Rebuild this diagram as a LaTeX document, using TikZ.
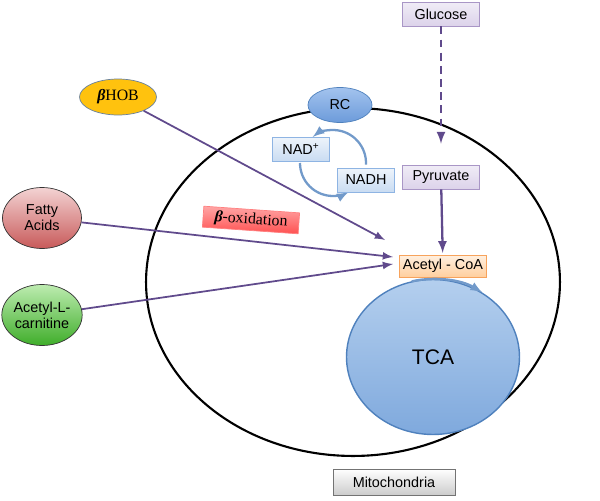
\documentclass[tikz,border=0pt]{standalone}
\usepackage{fontspec}
\setmainfont{Liberation Sans}
\newfontfamily\serifrm{Liberation Serif}
\usepackage{xcolor}
\usetikzlibrary{arrows}
\usetikzlibrary{positioning}
\usetikzlibrary{shapes.geometric}

\definecolor{flowpurple}{HTML}{604A8C}
\definecolor{boxpurple}{HTML}{A996C6}
\definecolor{lavtop}{HTML}{F0ECF6}
\definecolor{lavbot}{HTML}{DCD3EA}
\definecolor{nadblue}{HTML}{8EB4E3}
\definecolor{nadtop}{HTML}{EEF4FB}
\definecolor{nadbot}{HTML}{C9DCF2}
\definecolor{deepblue}{HTML}{4F81BD}
\definecolor{tcatop}{HTML}{B4CFEE}
\definecolor{tcabot}{HTML}{7FA9DD}
\definecolor{rctop}{HTML}{A3C3EE}
\definecolor{rcbot}{HTML}{6C9BDA}
\definecolor{orangeline}{HTML}{F7A35C}
\definecolor{hobfill}{HTML}{FFC20E}
\definecolor{fatop}{HTML}{F3D3D3}
\definecolor{fabot}{HTML}{C85A5A}
\definecolor{alctop}{HTML}{BDEBB0}
\definecolor{alcbot}{HTML}{3FAE2A}

\begin{document}
\begin{tikzpicture}[x=0.02cm,y=-0.02cm]
    \tikzstyle{every node}=[font=\fontsize{8.2}{9.2}\selectfont,inner sep=1pt]
    \tikzstyle{flow}=[draw=flowpurple,line width=1pt,-latex]
    \tikzstyle{cycle}=[draw=deepblue!80,line width=1.3pt,-latex]
    \tikzstyle{pbox}=[draw=boxpurple,top color=lavtop,bottom color=lavbot,minimum width=1.54cm,minimum height=0.48cm]
    \tikzstyle{nbox}=[draw=nadblue,top color=nadtop,bottom color=nadbot,minimum width=1.14cm,minimum height=0.48cm]
    \tikzstyle{blob}=[ellipse,draw=black!80,minimum width=1.58cm,minimum height=1.22cm,align=center,inner sep=0pt]

    \useasboundingbox (0,0) rectangle (600,501);

    % mitochondrion
    \node[ellipse,draw=black,line width=1.2pt,minimum width=8.28cm,minimum height=6.96cm] (mito) at (353,282) {};
    \node[draw=black!55,top color=white,bottom color=black!20,minimum width=2.44cm,minimum height=0.52cm] (mitolbl) at (394,482) {Mitochondria};

    % glycolysis side
    \node[pbox] (glc) at (441,14) {Glucose};
    \node[pbox] (pyr) at (441,177) {Pyruvate};
    \node[draw=orangeline,top color=orange!12,bottom color=orange!38,minimum width=1.74cm,minimum height=0.44cm] (acoa) at (443,266) {Acetyl - CoA};
    \node[ellipse,draw=deepblue,line width=0.8pt,top color=tcatop,bottom color=tcabot,minimum width=3.46cm,minimum height=3.1cm,font=\fontsize{12}{13}\selectfont] (tca) at (433,357) {TCA};

    \draw[flow,dashed,line width=1.3pt,dash pattern=on 4.5pt off 3pt,shorten >=12pt] (glc) -- (pyr);
    \draw[flow,line width=1.3pt,shorten >=1pt] (pyr) -- (acoa);
    \draw[cycle] (433,357) ++(-104:88 and 78) arc (-104:-56:88 and 78);

    % respiratory chain
    \draw[cycle] (333,163) ++(3:33) arc (3:-128:33);
    \draw[cycle] (333,163) ++(180:33) arc (180:62:33);
    \node[ellipse,draw=deepblue,top color=rctop,bottom color=rcbot,minimum width=1.28cm,minimum height=0.7cm] (rc) at (340,105) {RC};
    \node[nbox] (nad) at (301,149) {NAD\textsuperscript{+}};
    \node[nbox] (nadh) at (366,180) {NADH};

    % fuels
    \node[ellipse,draw=deepblue!50!gray,fill=hobfill,minimum width=1.54cm,minimum height=0.72cm,font=\serifrm\fontsize{9}{10}\selectfont] (hob) at (118,97) {\textbf{\textit{β}}HOB};
    \node[blob,top color=fatop,bottom color=fabot] (fa) at (42,218) {Fatty\\Acids};
    \node[blob,top color=alctop,bottom color=alcbot] (alc) at (42,315) {Acetyl-L-\\carnitine};
    \node[draw=red!50,top color=red!35,bottom color=red!68,rotate=-4,minimum width=1.92cm,minimum height=0.42cm,font=\serifrm\fontsize{9}{10}\selectfont] (box) at (251,220) {\textbf{\textit{β}}-oxidation};

    \coordinate (in1) at (385,240);
    \coordinate (in2) at (393,257);
    \coordinate (in3) at (393,264);
    \draw[flow] (hob) -- (in1);
    \draw[flow] (fa) -- (in2);
    \draw[flow] (alc) -- (in3);
\end{tikzpicture}
\end{document}
